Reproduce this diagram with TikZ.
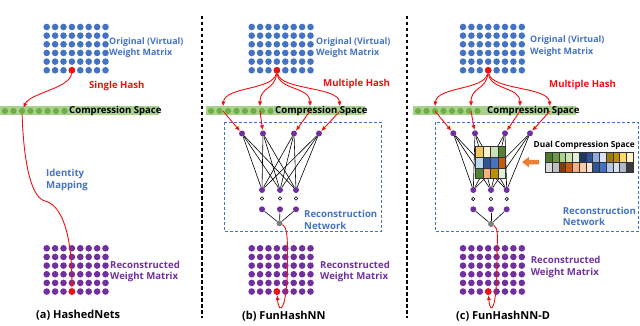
\documentclass[tikz,border=0pt]{standalone}
\usepackage{fontspec}
\setmainfont{Open Sans}
\usetikzlibrary{arrows.meta}
\definecolor{fhblue}{HTML}{4472C4}
\definecolor{fhpurple}{HTML}{7030A0}
\definecolor{fhred}{HTML}{EE1111}
\definecolor{fhgreen}{HTML}{70AD47}
\definecolor{fhlgreen}{HTML}{A9D18E}
\definecolor{fhgray}{HTML}{7F7F7F}
\definecolor{fhorange}{HTML}{ED7D31}
\tikzset{
  wd/.style={circle, inner sep=0pt, minimum size=6.6pt},
  ow/.style={wd, fill=fhblue},
  rw/.style={wd, fill=fhpurple},
  hw/.style={wd, fill=fhred},
  cd/.style={wd, minimum size=6.2pt, fill=fhgreen},
  csbar/.style={rectangle, fill=fhlgreen, minimum height=9pt, inner sep=0pt, anchor=west},
  nn/.style={circle, inner sep=0pt, minimum size=6pt, fill=fhpurple},
  outn/.style={nn, fill=fhgray},
  sd/.style={circle, inner sep=0pt, minimum size=3.4pt, draw=black, fill=white, line width=0.6pt},
  hash/.style={-{Latex[length=5pt,width=4.2pt]}, draw=fhred, line width=0.9pt},
  wire/.style={draw=black, line width=0.6pt},
  netbox/.style={draw=fhblue, dash pattern=on 3pt off 2pt, line width=0.8pt},
  divline/.style={draw=black, dash pattern=on 3.5pt off 2.5pt, line width=1.1pt},
  lbl/.style={font=\fontsize{9.6}{11.5}\selectfont\bfseries, align=left, anchor=west, inner sep=0pt},
  olbl/.style={lbl, font=\fontsize{8.9}{11.5}\selectfont\bfseries, text=fhblue},
  ttl/.style={lbl, font=\fontsize{11}{13}\selectfont\bfseries},
  cell/.style={rectangle, draw=black!80, line width=0.4pt, inner sep=0pt, anchor=north west},
  blk/.style={-{Triangle[length=7pt,width=10pt]}, draw=fhorange, line width=4.5pt},
}
\begin{document}
\begin{tikzpicture}[x=1pt, y=-1pt]
  \useasboundingbox (0,0) rectangle (640,326);
  % panel separators
  \coordinate (d1t) at (202,16); \coordinate (d1b) at (202,318);
  \coordinate (d2t) at (407,16); \coordinate (d2b) at (407,318);
  \draw[divline] (d1t) -- (d1b);
  \draw[divline] (d2t) -- (d2b);
  % reconstruction network boxes
  \draw[netbox] (224.3,122.3) rectangle (381,231.7);
  \draw[netbox] (435.7,122.3) rectangle (638.5,231.7);
  % original and reconstructed weight matrices
  \foreach \p/\mx in {a/46.7,b/251.7,c/463}{
    \foreach \i in {0,...,7}
      \foreach \j in {0,...,5}{
        \node[ow] (o\p-\i-\j) at (\mx+\i*8.4, 27+\j*8.65) {};
        \node[rw] (r\p-\i-\j) at (\mx+\i*8.4, 248.3+\j*8.65) {};
      }
    \node[hw] (ho\p) at (o\p-3-5) {};
    \node[hw] (hr\p) at (r\p-3-5) {};
  }
  % compression spaces
  \foreach \p/\bx/\bw/\tx in {a/0/159/69,b/206/159/275,c/413/163/487}{
    \node[csbar, minimum width=\bw pt] (cs\p) at (\bx,111) {};
    \foreach \k in {0,...,7} \node[cd] (c\p-\k) at (\bx+5+\k*8.5,111) {};
    \node[lbl, text=black] (cst\p) at (\tx,111) {Compression Space};
  }
  % (a) HashedNets
  \coordinate (am) at (45,201);
  \draw[hash] (hoa) .. controls +(-2,18) and +(8,-18) .. (ca-2);
  \draw[hash] (ca-2) .. controls +(2,60) and +(-12,-3) .. (am) .. controls +(16,4) and +(0,-60) .. (hra);
  \node[olbl] at (109,47.5) {Original (Virtual)\\Weight Matrix};
  \node[lbl, text=fhred] at (89,86) {Single Hash};
  \node[lbl, text=fhblue] at (46,180) {Identity\\Mapping};
  \node[lbl, text=fhpurple] at (110,271.5) {Reconstructed\\Weight Matrix};
  \node[ttl] at (36,315.5) {(a) HashedNets};
  % (b) FunHashNN
  \foreach \n/\x in {1/242,2/263,3/294,4/319} \node[nn] (bi\n) at (\x,133.5) {};
  \foreach \n/\x in {1/262,2/280,3/296}{
    \node[nn] (bh\n) at (\x,190) {};
    \node[sd] (bs\n) at (\x,198.5) {};
    \node[nn] (bl\n) at (\x,209.3) {};
  }
  \node[outn] (bo) at (279.5,223.3) {};
  \foreach \i in {1,...,4} \foreach \j in {1,...,3} \draw[wire] (bi\i) -- (bh\j);
  \foreach \j in {1,...,3} \draw[wire] (bl\j) -- (bo);
  \foreach \n/\x/\s/\e in {1/223/-4/2,2/260/-2/0,3/310/2/0,4/340/4/-2}{
    \coordinate (bt\n) at (\x,106.5);
    \coordinate (bf\n) at (\x,111);
    \draw[hash] (hob) .. controls +(\s,20) and +(\e,-20) .. (bt\n);
    \draw[hash] (bf\n) -- (bi\n);
  }
  \coordinate (bm) at (287.5,262);
  \draw[hash] (bo) .. controls +(8,4) and +(0,-25) .. (bm) .. controls +(0,48) and +(2,25) .. (hrb);
  \node[olbl] at (316,47.5) {Original (Virtual)\\Weight Matrix};
  \node[lbl, text=fhred] at (323,84) {Multiple Hash};
  \node[lbl, text=fhblue] at (304,220) {Reconstruction\\Network};
  \node[lbl, text=fhpurple] at (320,271.5) {Reconstructed\\Weight Matrix};
  \node[ttl] at (242,316.5) {(b) FunHashNN};
  % (c) FunHashNN-D
  \foreach \n/\x in {1/453.3,2/475,3/505,4/530} \node[nn] (ci\n) at (\x,133.3) {};
  \foreach \n/\x in {1/473.3,2/491,3/506.7}{
    \node[nn] (ch\n) at (\x,190) {};
    \node[sd] (cs\n) at (\x,199) {};
    \node[nn] (cl\n) at (\x,209.3) {};
  }
  \node[outn] (co) at (491,224) {};
  \foreach \i in {1,...,4} \foreach \j in {1,...,3} \draw[wire] (ci\i) -- (ch\j);
  \foreach \j in {1,...,3} \draw[wire] (cl\j) -- (co);
  \foreach \col [count=\n from 0] in {F2C75C,FFF2CC,C9E3B6,548235,BDD7EE,2F5597,4472C4,C55A11,548235,F4B183,BF9000,E2F0D9}{
    \pgfmathtruncatemacro\ci{mod(\n,4)}
    \pgfmathtruncatemacro\ri{div(\n,4)}
    \definecolor{cellc}{HTML}{\col}
    \node[cell, fill=cellc, minimum width=7.5pt, minimum height=10.8pt] (dm\n) at (475+\ci*7.5, 146+\ri*10.8) {};
  }
  \node[rectangle, inner sep=0pt, minimum width=88pt, minimum height=20.6pt, anchor=north west] (dcs) at (545,151.7) {};
  \foreach \col [count=\n from 0] in {4E7A2E,6F9A45,A9D18E,C9E3B6,E2F0D9,1F3864,2F5597,8FAADC,DAE3F3,9C7C0C,BF9000,FFD966,FFF2CC,D9D9D9,BFBFBF,843C0C,C55A11,F4B183,F8CBAD,FBE5D6,2F5597,4472C4,B4C7E7,DAE3F3,ADB9CA,3B3B3B}{
    \pgfmathtruncatemacro\ci{mod(\n,13)}
    \pgfmathtruncatemacro\ri{div(\n,13)}
    \definecolor{cellc}{HTML}{\col}
    \node[cell, fill=cellc, minimum width=6.77pt, minimum height=10.3pt] (ds\n) at (545+\ci*6.77, 151.7+\ri*10.3) {};
  }
  \coordinate (dmr) at (505,162);
  \draw[blk, shorten <=6pt, shorten >=17pt] (dcs.west) -- (dmr);
  \foreach \n/\x/\s/\e in {1/435/-4/2,2/471/-2/0,3/520/2/0,4/550/4/-2}{
    \coordinate (ct\n) at (\x,106.5);
    \coordinate (cf\n) at (\x,111);
    \draw[hash] (hoc) .. controls +(\s,20) and +(\e,-20) .. (ct\n);
    \draw[hash] (cf\n) -- (ci\n);
  }
  \coordinate (cm) at (497,262);
  \draw[hash] (co) .. controls +(8,4) and +(0,-25) .. (cm) .. controls +(0,48) and +(2,25) .. (hrc);
  \node[olbl] at (530,46) {Original (Virtual)\\Weight Matrix};
  \node[lbl, text=fhred] at (549,85) {Multiple Hash};
  \node[lbl, text=black, font=\fontsize{8.3}{10}\selectfont\bfseries] at (533.5,145) {Dual Compression Space};
  \node[lbl, text=fhblue] at (562.7,216.5) {Reconstruction\\Network};
  \node[lbl, text=fhpurple] at (530.7,267) {Reconstructed\\Weight Matrix};
  \node[ttl] at (456,316.5) {(c) FunHashNN-D};
\end{tikzpicture}
\end{document}
